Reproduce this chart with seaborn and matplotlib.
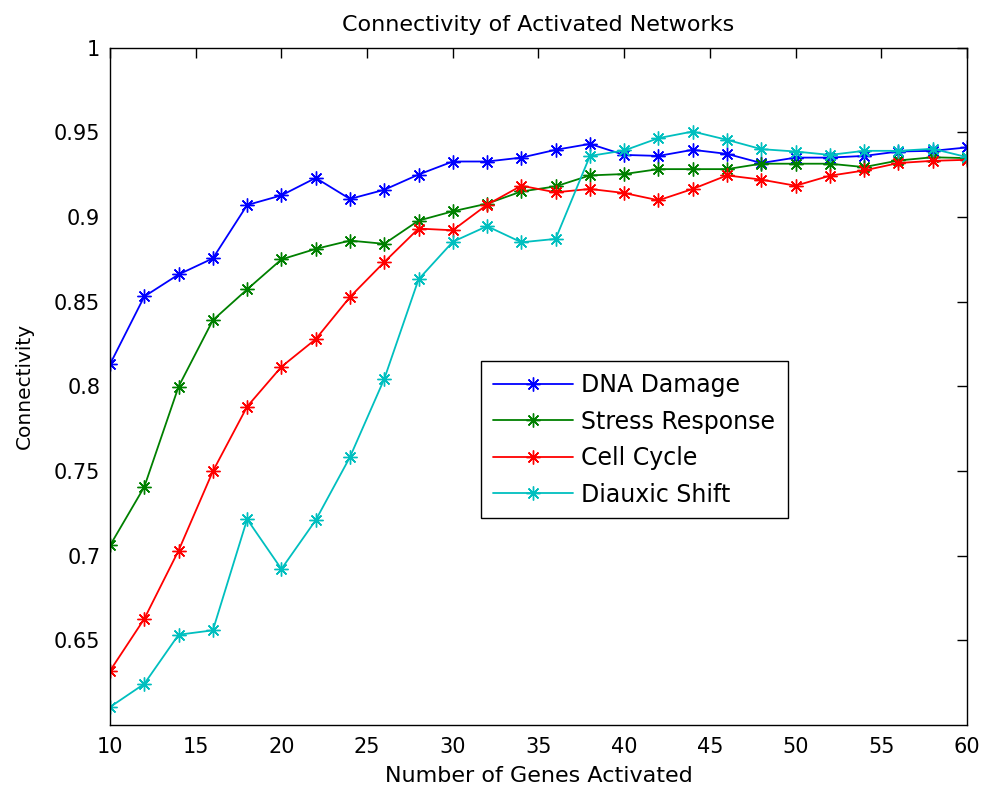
import matplotlib
matplotlib.use("Agg")
import matplotlib.pyplot as plt
import numpy as np
import pandas as pd
import seaborn as sns

genes = list(range(10, 61, 2))

dna_damage = [0.813, 0.853, 0.866, 0.8755, 0.907, 0.9127, 0.923, 0.9106, 0.916,
              0.925, 0.9327, 0.9327, 0.935, 0.9396, 0.9431, 0.9366, 0.936, 0.9396,
              0.9372, 0.9318, 0.935, 0.935, 0.936, 0.9386, 0.939, 0.941]
stress_response = [0.706, 0.7406, 0.7998, 0.839, 0.8572, 0.8749, 0.8811, 0.886, 0.8841,
                   0.8978, 0.9033, 0.9078, 0.915, 0.918, 0.9245, 0.9253, 0.9282, 0.9282,
                   0.9282, 0.9314, 0.9314, 0.9314, 0.9294, 0.9333, 0.9352, 0.9347]
cell_cycle = [0.632, 0.6627, 0.703, 0.7498, 0.788, 0.8115, 0.8278, 0.8527, 0.8733,
              0.8931, 0.8921, 0.9072, 0.9184, 0.9145, 0.9165, 0.9141, 0.9098, 0.9165,
              0.9245, 0.922, 0.9184, 0.9243, 0.9274, 0.9318, 0.9331, 0.9337]
diauxic_shift = [0.6106, 0.6243, 0.6533, 0.6559, 0.7215, 0.6921, 0.7209, 0.7582, 0.8043,
                 0.8631, 0.8853, 0.8945, 0.885, 0.887, 0.936, 0.9392, 0.9465, 0.9504,
                 0.9455, 0.94, 0.9386, 0.9366, 0.939, 0.939, 0.9402, 0.9353]

series_names = ["DNA Damage", "Stress Response", "Cell Cycle", "Diauxic Shift"]
series_values = [dna_damage, stress_response, cell_cycle, diauxic_shift]
series_colors = ["#0000ff", "#008000", "#ff0000", "#00bfbf"]

x_ticks = list(range(10, 61, 5))
y_ticks = [0.65, 0.7, 0.75, 0.8, 0.85, 0.9, 0.95, 1.0]
y_tick_labels = ["0.65", "0.7", "0.75", "0.8", "0.85", "0.9", "0.95", "1"]

df = pd.DataFrame({
    "genes": genes * len(series_names),
    "connectivity": sum(series_values, []),
    "network": np.repeat(series_names, len(genes)),
})

sns.set_theme(style="white")
plt.rcParams["font.family"] = ["DejaVu Sans"]
plt.rcParams["text.color"] = "black"
plt.rcParams["axes.labelcolor"] = "black"

fig = plt.figure(figsize=(9.85, 7.96), dpi=100)
ax = fig.add_axes([0.1117, 0.0892, 0.8700, 0.8511])

asterisk = (8, 2, 0)
sns.lineplot(
    data=df, x="genes", y="connectivity", hue="network", style="network",
    hue_order=series_names, style_order=series_names,
    palette=dict(zip(series_names, series_colors)),
    markers={n: asterisk for n in series_names}, dashes=False,
    markersize=10, markeredgewidth=1.0, linewidth=1.3, ax=ax, legend=True,
)
# asterisk markers are stroked, so their edges take the line colour
for ln in ax.lines:
    ln.set_markeredgecolor(ln.get_color())

ax.set_xlim(10, 60)
ax.set_ylim(0.6, 1.0)
ax.set_xticks(x_ticks)
ax.set_xticklabels([str(t) for t in x_ticks])
ax.set_yticks(y_ticks)
ax.set_yticklabels(y_tick_labels)

for sp in ax.spines.values():
    sp.set_color("black")
    sp.set_linewidth(1.0)
    sp.set_visible(True)

ax.tick_params(direction="in", length=7, width=1, top=True, right=True,
               labelsize=15, colors="black")
ax.tick_params(axis="x", pad=9)
ax.tick_params(axis="y", pad=7)

ax.set_title("Connectivity of Activated Networks", fontsize=16, pad=12)
ax.set_xlabel("Number of Genes Activated", fontsize=16, labelpad=6)
ax.set_ylabel("Connectivity", fontsize=14.5, labelpad=14)

handles, labels = ax.get_legend_handles_labels()
for h in handles:
    h.set_markeredgecolor(h.get_color())
leg = ax.legend(handles, labels, loc="upper left",
                bbox_to_anchor=(0.433, 0.537, 0.358, 0.0), mode="expand",
                frameon=True, fancybox=False, fontsize=17, borderpad=0.5,
                labelspacing=0.53, handlelength=3.4, handletextpad=0.34,
                borderaxespad=0)
leg.get_frame().set_edgecolor("black")
leg.get_frame().set_linewidth(1.0)
leg.get_frame().set_alpha(1)

fig.savefig("out.png", dpi=100)
